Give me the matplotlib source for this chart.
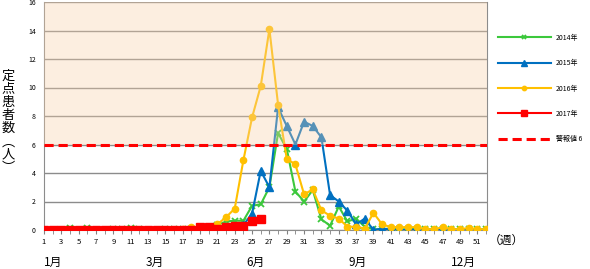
import matplotlib
matplotlib.use("Agg")
import matplotlib.pyplot as plt
import matplotlib.transforms as mtransforms
import numpy as np

plt.rcParams['font.family'] = ['Noto Sans CJK JP', 'DejaVu Sans']

weeks = np.arange(1, 53)

# 2014
y2014 = [0, 0, 0, 0.15, 0, 0.15, 0, 0, 0.05, 0.1, 0.15, 0.1, 0, 0, 0.05, 0.1, 0.1, 0.05, 0.1, 0.1,
         0.35, 0.6, 0.65, 0.65, 1.7, 1.8, 3.0, 6.8, 5.7, 2.7, 2.0, 2.8, 0.75, 0.3, 1.65, 0.6, 0.8, 0.23,
         0.05, 0.05, 0.1, 0.05, 0.05, 0.1, 0.05, 0.05, 0.1, 0.05, 0.05, 0.05, 0.05, 0.05]
# 2015
y2015 = [0, 0, 0, 0, 0, 0, 0, 0, 0, 0, 0, 0, 0, 0, 0, 0, 0, 0, 0, 0,
         0.1, 0.2, 0.3, 0.35, 1.15, 4.15, 3.0, 8.6, 7.3, 6.0, 7.6, 7.3, 6.5, 2.45, 2.0, 1.35, 0.4, 0.8,
         0, 0.1, 0.05, 0, 0, 0.05, 0, 0, 0.05, 0, 0, 0, 0, 0]
# 2016
y2016 = [0, 0, 0, 0, 0, 0, 0, 0, 0, 0, 0, 0, 0, 0, 0, 0, 0.05, 0.2, 0.1, 0.1,
         0.4, 0.9, 1.5, 4.9, 7.9, 10.1, 14.1, 8.8, 5.0, 4.6, 2.5, 2.85, 1.38, 1.0, 0.8, 0.23, 0.23, 0.1,
         1.2, 0.4, 0.2, 0.2, 0.2, 0.2, 0.05, 0.05, 0.2, 0.05, 0.05, 0.15, 0.05, 0.05]
# 2017
y2017 = [0, 0, 0, 0, 0, 0, 0, 0, 0, 0, 0, 0, 0, 0, 0, 0, 0, 0, 0.2, 0.2,
         0.05, 0.2, 0.25, 0.25, 0.65, 0.8]

alarm = 6
month_labels = ["1月", "3月", "6月", "9月", "12月"]
month_pos = [1, 12.7, 24.4, 36.1, 47.9]

fig = plt.figure(figsize=(5.9, 2.69), dpi=100)
ax = fig.add_axes([44 / 590, 1 - 230 / 269, 443 / 590, 228 / 269])

ax.plot(weeks, y2014, color="#3CC83C", lw=1.5, marker="x", ms=4, mew=1.3, label="2014年", zorder=3)
ax.plot(weeks, y2015, color="#0070C0", lw=1.5, marker="^", ms=5.5, label="2015年", zorder=3)
ax.plot(weeks, y2016, color="#FFC000", lw=1.5, marker="o", ms=4.5, label="2016年", zorder=3)
ax.plot(weeks[:len(y2017)], y2017, color="#FF0000", lw=1.5, marker="s", ms=5.5, label="2017年", zorder=4)

# peach band above alarm level (drawn over lines, semi-transparent)
ax.axhspan(alarm, 16, color="#F8D0A8", alpha=0.35, lw=0, zorder=5)
ax.axhline(alarm, color="#FF0000", lw=2.2, ls=(0, (3, 1.6)), label="警報値 6", zorder=6)

ax.set_xlim(1, 52.1)
ax.set_ylim(0, 16)
ax.set_yticks(np.arange(0, 17, 2))
ax.set_xticks(np.arange(1, 52, 2))
ax.set_xticks(weeks, minor=True)
ax.tick_params(axis="y", length=0, labelsize=5, pad=6)
ax.tick_params(axis="x", which="both", length=3, color="#808080", labelsize=5.5, pad=3)
ax.grid(axis="y", color="#8C8C8C", lw=1, zorder=1)
for s in ["left", "bottom", "right"]:
    ax.spines[s].set_color("#8C8C8C")
ax.spines["top"].set_visible(False)

xtr = mtransforms.blended_transform_factory(ax.transData, fig.transFigure)
for lab, p in zip(month_labels, month_pos):
    ax.text(p, 1 - 262 / 269, lab, transform=xtr, ha="left", va="center", fontsize=8.5)

fig.text(489 / 590, 1 - 240 / 269, "（週）", ha="left", va="center", fontsize=8.5)

ylab = "定\n点\n患\n者\n数\n︵\n人\n︶"
fig.text(8 / 590, 1 - 122 / 269, ylab, ha="center", va="center", fontsize=9.5, linespacing=1.02)

leg = ax.legend(loc="upper left", bbox_to_anchor=(495 / 590, 1 - 31 / 269), bbox_transform=fig.transFigure,
                frameon=False, fontsize=5, handlelength=7.6, labelspacing=2.5, handletextpad=0.8,
                borderaxespad=0, markerscale=0.7)

fig.savefig("out.png", dpi=100)
